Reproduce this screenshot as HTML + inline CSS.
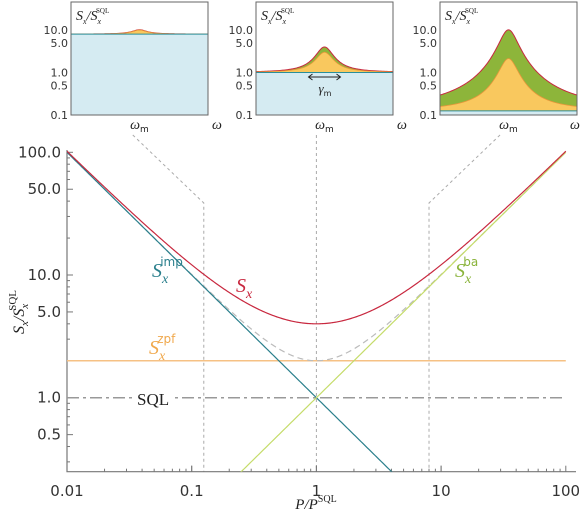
<!DOCTYPE html>
<html><head><meta charset="utf-8"><style>
html,body{margin:0;padding:0;background:#fff;width:580px;height:519px;overflow:hidden;position:relative}
svg{position:absolute;left:0;top:0;display:block;overflow:hidden;font-family:"DejaVu Sans","Liberation Sans",sans-serif}
.it{font-family:"Liberation Serif",serif;font-style:italic}
</style></head><body>
<svg id="c" width="580" height="519" viewBox="0 0 580 519" xmlns="http://www.w3.org/2000/svg"></svg>
<script>
const xTicks=[0.01,0.1,1,10,100];
const xTickLabels=["0.01","0.1","1","10","100"];
const yTicks=[0.5,1,5,10,50,100];
const yTickLabels=["0.5","1.0","5.0","10.0","50.0","100.0"];
const zpfLevel=[2];
const sqlLevel=[1];
const impAtUnity=[1];
const baAtUnity=[1];
const markerPowers=[0.125,1,8];
const insetPowers=[0.125,1,8];
const insetTicks=[0.1,0.5,1,5,10];
const insetTickLabels=["0.1","0.5","1.0","5.0","10.0"];

const NS="http://www.w3.org/2000/svg";
const svg=document.getElementById('c');
function el(t,a,p){const e=document.createElementNS(NS,t);for(const k in a)e.setAttribute(k,a[k]);(p||svg).appendChild(e);return e;}
const X0=67,DX=124.7,Y1=397.7,DY=122.7,YB=471.7,XR=576;
const xs=p=>X0+(Math.log10(p)+2)*DX;
const ys=v=>Y1-Math.log10(v)*DY;
const imp=p=>impAtUnity[0]/p, ba=p=>baAtUnity[0]*p;

const defs=el('defs',{});
const cp=el('clipPath',{id:'cl'},defs);el('rect',{x:X0,y:140,width:XR-X0,height:YB-140},cp);

markerPowers.forEach((p,i)=>{const x=xs(p);
 let d;
 if(i==1) d=`M${x},135 L${x},${YB}`;
 else {const dx=(i==0?-71:71);d=`M${x+dx},135 L${x},203 L${x},${YB}`;}
 const l=el('path',{d,fill:'none',stroke:'#aaa','stroke-width':1,'stroke-dasharray':'3,3'});
 
 
});

let a=el('path',{d:`M${X0},150 L${X0},${YB} L${XR},${YB}`,fill:'none',stroke:'#777','stroke-width':1.2});

for(let d=-2;d<2;d++)for(let m=1;m<=10;m++){const p=m*Math.pow(10,d);const x=xs(p);el('line',{x1:x,x2:x,y1:YB,y2:YB-(m==1||m==10?6:3),stroke:'#777'});}
for(let d=-1;d<2;d++)for(let m=1;m<=10;m++){const v=m*Math.pow(10,d);const y=ys(v);if(y<150||y>YB)continue;el('line',{x1:X0,x2:X0+(m==1||m==10||m==5?6:3),y1:y,y2:y,stroke:'#777'});}
xTicks.forEach((t,i)=>{const e=el('text',{x:xs(t),y:496,'text-anchor':'middle','font-size':15,fill:'#333'});e.textContent=xTickLabels[i];
 });
yTicks.forEach((t,i)=>{const e=el('text',{x:X0-6,y:ys(t)+5,'text-anchor':'end','font-size':15,fill:'#333'});e.textContent=yTickLabels[i];
 });

let xt=el('text',{x:316,y:509,'text-anchor':'middle','font-size':15,fill:'#222',class:'it'});
xt.innerHTML='P/P<tspan font-style="normal" font-size="10" dy="-7">SQL</tspan>';

let yt=el('text',{transform:'translate(24,312) rotate(-90)','text-anchor':'middle','font-size':16,fill:'#222',class:'it'});
yt.innerHTML='S<tspan font-size="11" dy="4">x</tspan><tspan dy="-4">/S</tspan><tspan font-size="11" dy="4">x</tspan><tspan font-style="normal" font-size="11" dy="-12" dx="-7">SQL</tspan>';


const g=el('g',{'clip-path':'url(#cl)'});
function curve(f,attrs,name){let d='';for(let i=0;i<=400;i++){const lp=-2+4*i/400,p=Math.pow(10,lp);d+=(i?'L':'M')+xs(p).toFixed(2)+','+ys(f(p)).toFixed(2);}
 const e=el('path',Object.assign({d,fill:'none'},attrs),g);}
curve(p=>sqlLevel[0],{stroke:'#999','stroke-width':1.5,'stroke-dasharray':'12,4,3,4'},'sql-line');
curve(p=>zpfLevel[0],{stroke:'#f6c184','stroke-width':1.6},'zpf-line');
curve(p=>imp(p)+ba(p),{stroke:'#bbb','stroke-width':1.2,'stroke-dasharray':'6,4'},'imp-plus-ba-line');
curve(imp,{stroke:'#2a7f8c','stroke-width':1.2},'imp-line');
curve(ba,{stroke:'#c5dc6a','stroke-width':1.2},'ba-line');
curve(p=>imp(p)+ba(p)+zpfLevel[0],{stroke:'#c8283f','stroke-width':1.2},'total-line');

el('rect',{x:133,y:388,width:40,height:20,fill:'#fff'});
function lab(x,y,main,sup,col,name){const e=el('text',{x,y,'font-size':20,fill:col,class:'it'});
 e.innerHTML=main+'<tspan font-size="14" dy="6">x</tspan>'+(sup?`<tspan font-style="normal" font-family="DejaVu Sans,sans-serif" font-size="12" dx="-8" dy="-17">${sup}</tspan>`:'');
 }
lab(152,277,'S','imp','#2a7f8c','imp-label');
lab(236,292,'S','','#c8283f','total-label');
lab(455,277,'S','ba','#8ab33a','ba-label');
lab(149,354,'S','zpf','#f0a84c','zpf-label');
let s=el('text',{x:137,y:405,'font-size':17,fill:'#222','font-family':'Liberation Serif,serif'});s.textContent='SQL';


const insetL=[71,256,440],IW=137,IT=2,IB=115;
const iy=v=>IB-(Math.log10(v)+1)*42.5;
insetPowers.forEach((p,k)=>{
 const L=insetL[k],ig=el('g',{});
 
 const c='ic'+k;const cc=el('clipPath',{id:c},defs);el('rect',{x:L,y:IT,width:IW,height:IB-IT},cc);
 const gg=el('g',{'clip-path':`url(#${c})`},ig);
 const lor=x=>{const u=(x-(L+IW/2))/9;return 1/(1+u*u);};
 const top=f=>{let d='';for(let x=L;x<=L+IW;x+=1)d+='L'+x+','+iy(f(x)).toFixed(2);return d;};
 const i0=imp(p),fz=x=>i0+zpfLevel[0]*lor(x),fb=x=>fz(x)+ba(p)*lor(x);
 el('path',{d:`M${L},${IB}`+top(fb)+`L${L+IW},${IB}Z`,fill:'#8db53a'},gg);
 el('path',{d:`M${L},${IB}`+top(fz)+`L${L+IW},${IB}Z`,fill:'#f9c85e'},gg);
 el('path',{d:`M${L},${IB}`+top(x=>i0)+`L${L+IW},${IB}Z`,fill:'#d5ebf2'},gg);
 el('path',{d:'M'+top(fb).slice(1),fill:'none',stroke:'#c8283f','stroke-width':1},gg);
 el('path',{d:'M'+top(fz).slice(1),fill:'none',stroke:'#e8963a','stroke-width':0.8},gg);
 el('path',{d:'M'+top(x=>i0).slice(1),fill:'none',stroke:'#2a8f9a','stroke-width':1},gg);
 el('rect',{x:L,y:IT,width:IW,height:IB-IT,fill:'none',stroke:'#666','stroke-width':1},ig);
 insetTicks.forEach((t,i)=>{const e=el('text',{x:L-3,y:iy(t)+4,'text-anchor':'end','font-size':11,fill:'#333'},ig);e.textContent=insetTickLabels[i];});
 const t=el('text',{x:L+5,y:20,'font-size':14,fill:'#222',class:'it'},ig);
 t.innerHTML='S<tspan font-size="8" dy="4">x</tspan><tspan dy="-4">/S</tspan><tspan font-size="8" dy="4">x</tspan><tspan font-style="normal" font-size="7" dy="-11" dx="-5">SQL</tspan>';
 const w=el('text',{x:L+IW/2,y:129,'text-anchor':'middle','font-size':14,fill:'#222',class:'it'},ig);
 w.innerHTML='ω<tspan font-style="normal" font-family="DejaVu Sans,sans-serif" font-size="9" dy="3">m</tspan>';
 const w2=el('text',{x:Math.min(L+IW+4,570),y:129,'font-size':14,fill:'#222',class:'it'},ig);w2.textContent='ω';
 if(k==1){el('path',{d:`M${L+IW/2-16},77 L${L+IW/2+16},77 M${L+IW/2-12},74 L${L+IW/2-16},77 L${L+IW/2-12},80 M${L+IW/2+12},74 L${L+IW/2+16},77 L${L+IW/2+12},80`,stroke:'#222',fill:'none','stroke-width':1},ig);
  const gm=el('text',{x:L+IW/2-6,y:93,'font-size':13,fill:'#222',class:'it'},ig);gm.innerHTML='γ<tspan font-style="normal" font-family="DejaVu Sans,sans-serif" font-size="8" dy="3">m</tspan>';}
});
</script></body></html>
